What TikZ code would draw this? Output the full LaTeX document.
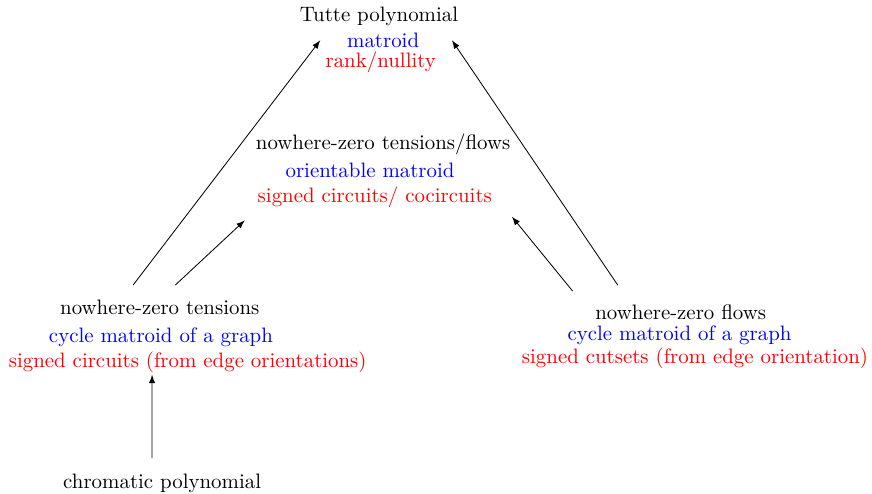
\documentclass[tikz,border=0pt]{standalone}
\usepackage{xcolor}
\usepackage{tikz}
\usetikzlibrary{arrows.meta, positioning, calc}

\begin{document}
\begin{tikzpicture}[
    txt/.style={inner sep=1pt, text=black},
    mat/.style={inner sep=1pt, text=blue},
    sgn/.style={inner sep=1pt, text=red},
    conn/.style={-latex, thin, black}
  ]
  \useasboundingbox (0,0) rectangle (14.68,8.30);

  % === Tutte polynomial ===
  \node[txt] (tutte) at (6.38,8.03) {Tutte polynomial};
  \node[mat] (tutteM) at (6.45,7.62) {matroid};
  \node[sgn] (tutteR) at (6.41,7.25) {rank/nullity};

  % === tensions/flows ===
  \node[txt] (nzTF) at (6.45,5.87) {nowhere-zero tensions/flows};
  \node[mat] (orient) at (6.23,5.44) {orientable matroid};
  \node[sgn] (signedCC) at (6.31,4.98) {signed circuits/ cocircuits};

  % === tensions ===
  \node[txt] (tens) at (2.69,3.13) {nowhere-zero tensions};
  \node[mat] (tensM) at (2.71,2.63) {cycle matroid of a graph};
  \node[sgn] (tensR) at (3.16,2.20) {signed circuits (from edge orientations)};

  % === flows ===
  \node[txt] (flows) at (11.46,3.05) {nowhere-zero flows};
  \node[mat] (flowsM) at (11.44,2.66) {cycle matroid of a graph};
  \node[sgn] (flowsR) at (11.70,2.27) {signed cutsets (from edge orientation)};

  % === chromatic ===
  \node[txt] (chrom) at (2.73,0.17) {chromatic polynomial};

  \draw[conn] ($(tens)+(-0.45,0.37)$) -- ($(tutteM)+(-1.06,0)$);
  \draw[conn] ($(tens)+(0.26,0.37)$) -- ($(signedCC)+(-2.19,-0.39)$);
  \draw[conn] ($(flows)+(-1.06,0.45)$) -- ($(tutteM)+(1.16,0)$);
  \draw[conn] ($(flows)+(-1.82,0.35)$) -- ($(signedCC)+(2.31,-0.33)$);
  \draw[conn] ($(chrom)+(-0.17,0.42)$) -- ($(tensR)+(-0.60,-0.21)$);
\end{tikzpicture}
\end{document}
